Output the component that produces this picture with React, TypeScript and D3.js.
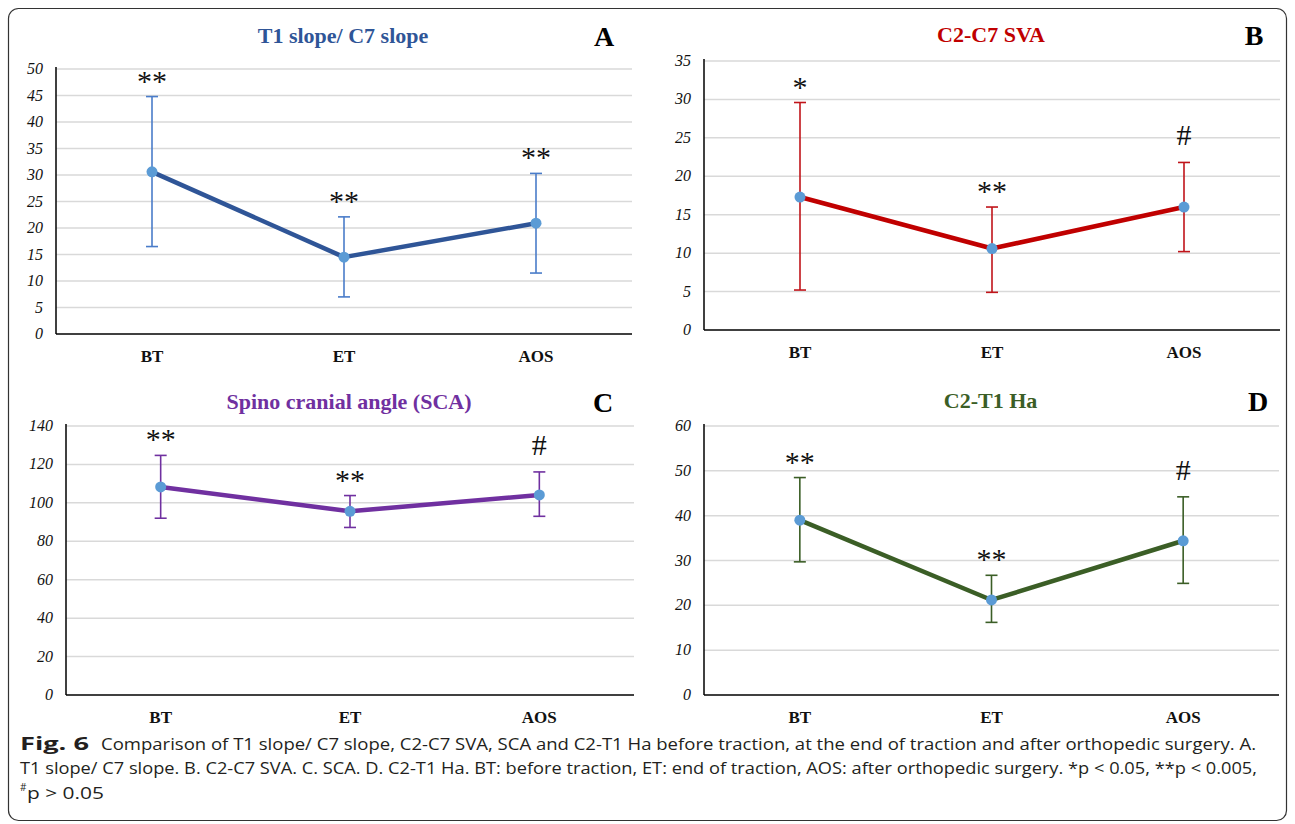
import React, { useRef, useEffect } from 'react';
import * as d3 from 'd3';

const categories = ['BT', 'ET', 'AOS'];

// panel A: T1 slope / C7 slope
const meansA = [30.6, 14.5, 20.9];
const upperA = [44.8, 22.1, 30.3];
const lowerA = [16.5, 7.0, 11.5];
const marksA = ['**', '**', '**'];
const ticksA = [0, 5, 10, 15, 20, 25, 30, 35, 40, 45, 50];

// panel B: C2-C7 SVA
const meansB = [17.3, 10.6, 16.0];
const upperB = [29.6, 16.0, 21.8];
const lowerB = [5.2, 4.9, 10.2];
const marksB = ['*', '**', '#'];
const ticksB = [0, 5, 10, 15, 20, 25, 30, 35];

// panel C: spino cranial angle
const meansC = [108.3, 95.6, 104.1];
const upperC = [124.7, 103.8, 116.1];
const lowerC = [92.0, 87.2, 93.0];
const marksC = ['**', '**', '#'];
const ticksC = [0, 20, 40, 60, 80, 100, 120, 140];

// panel D: C2-T1 Ha
const meansD = [39.0, 21.2, 34.4];
const upperD = [48.5, 26.7, 44.2];
const lowerD = [29.7, 16.2, 24.9];
const marksD = ['**', '**', '#'];
const ticksD = [0, 10, 20, 30, 40, 50, 60];

const panels = [
  { title: 'T1 slope/ C7 slope', letter: 'A', means: meansA, upper: upperA, lower: lowerA, marks: marksA, ticks: ticksA,
    line: '#2F5597', bar: '#4A7CC9', left: 56, right: 632, top: 69, bottom: 334, titleY: 43, letterX: 604, labelY: 362 },
  { title: 'C2-C7 SVA', letter: 'B', means: meansB, upper: upperB, lower: lowerB, marks: marksB, ticks: ticksB,
    line: '#C00000', bar: '#C0141A', left: 704, right: 1280, top: 61, bottom: 330, titleY: 42, letterX: 1254, labelY: 358 },
  { title: 'Spino cranial angle (SCA)', letter: 'C', means: meansC, upper: upperC, lower: lowerC, marks: marksC, ticks: ticksC,
    line: '#7030A0', bar: '#7030A0', left: 66, right: 634, top: 426, bottom: 695, titleY: 409, letterX: 603, labelY: 723 },
  { title: 'C2-T1 Ha', letter: 'D', means: meansD, upper: upperD, lower: lowerD, marks: marksD, ticks: ticksD,
    line: '#3B5E26', bar: '#3B5E26', left: 704, right: 1279, top: 426, bottom: 695, titleY: 408, letterX: 1258, labelY: 723 },
];

const serif = 'Liberation Serif';

const App = () => {
  const svgRef = useRef<SVGSVGElement>(null);

  useEffect(() => {
    const svg = d3.select(svgRef.current);
    svg.selectAll('*').remove();

    svg.append('rect')
      .attr('x', 8.5).attr('y', 8.5).attr('width', 1278).attr('height', 812)
      .attr('rx', 10).attr('fill', 'white').attr('stroke', '#333').attr('stroke-width', 1.2);

    panels.forEach(p => {
      const g = svg.append('g');
      const x = d3.scalePoint<string>().domain(categories).range([p.left, p.right]).padding(0.5);
      const y = d3.scaleLinear().domain([0, d3.max(p.ticks) as number]).range([p.bottom, p.top]);

      // gridlines
      g.selectAll('line.grid')
        .data(p.ticks.filter(t => t > 0))
        .enter().append('line')
        .attr('x1', p.left).attr('x2', p.right)
        .attr('y1', d => y(d)).attr('y2', d => y(d))
        .attr('stroke', '#d9d9d9').attr('stroke-width', 1.5);

      // y tick labels
      g.selectAll('text.yt')
        .data(p.ticks)
        .enter().append('text')
        .attr('x', p.left - 13).attr('y', d => y(d) + 5)
        .attr('text-anchor', 'end')
        .attr('font-family', serif).attr('font-style', 'italic').attr('font-size', 16).attr('fill', '#111')
        .text(d => d);

      // axes
      g.append('line')
        .attr('x1', p.left).attr('x2', p.left)
        .attr('y1', p.top - 2).attr('y2', p.bottom)
        .attr('stroke', '#000').attr('stroke-width', 1.5);
      g.append('line')
        .attr('x1', p.left).attr('x2', p.right)
        .attr('y1', p.bottom).attr('y2', p.bottom)
        .attr('stroke', '#000').attr('stroke-width', 1.5);
      g.selectAll('text.xl')
        .data(categories)
        .enter().append('text')
        .attr('x', d => x(d) as number).attr('y', p.labelY)
        .attr('text-anchor', 'middle')
        .attr('font-family', serif).attr('font-weight', 'bold').attr('font-size', 17).attr('fill', '#111')
        .text(d => d);

      // error bars
      const idx = categories.map((_, i) => i);
      const eb = g.selectAll('g.eb').data(idx).enter().append('g')
        .attr('stroke', p.bar).attr('stroke-width', 1.6);
      eb.append('line')
        .attr('x1', i => x(categories[i]) as number).attr('x2', i => x(categories[i]) as number)
        .attr('y1', i => y(p.upper[i])).attr('y2', i => y(p.lower[i]));
      eb.append('line')
        .attr('x1', i => (x(categories[i]) as number) - 6).attr('x2', i => (x(categories[i]) as number) + 6)
        .attr('y1', i => y(p.upper[i])).attr('y2', i => y(p.upper[i]));
      eb.append('line')
        .attr('x1', i => (x(categories[i]) as number) - 6).attr('x2', i => (x(categories[i]) as number) + 6)
        .attr('y1', i => y(p.lower[i])).attr('y2', i => y(p.lower[i]));

      // mean line
      const lineGen = d3.line<number>()
        .x(i => x(categories[i]) as number)
        .y(i => y(p.means[i]));
      g.append('path')
        .datum(idx)
        .attr('d', lineGen)
        .attr('fill', 'none').attr('stroke', p.line).attr('stroke-width', 4.5)
        .attr('stroke-linejoin', 'round');

      g.selectAll('circle')
        .data(idx)
        .enter().append('circle')
        .attr('cx', i => x(categories[i]) as number).attr('cy', i => y(p.means[i]))
        .attr('r', 5.5).attr('fill', '#5B9BD5');

      // significance marks
      g.selectAll('text.mk')
        .data(idx)
        .enter().append('text')
        .attr('x', i => x(categories[i]) as number)
        .attr('y', i => y(p.upper[i]) - (p.marks[i] === '#' ? 17 : 6))
        .attr('text-anchor', 'middle')
        .attr('font-family', serif).attr('font-size', 30).attr('fill', '#111')
        .text(i => p.marks[i]);

      // title and panel letter
      g.append('text')
        .attr('x', (p.left + p.right) / 2 - 1).attr('y', p.titleY)
        .attr('text-anchor', 'middle')
        .attr('font-family', serif).attr('font-weight', 'bold').attr('font-size', 22).attr('fill', p.line)
        .text(p.title);
      g.append('text')
        .attr('x', p.letterX).attr('y', p.titleY + 3)
        .attr('text-anchor', 'middle')
        .attr('font-family', serif).attr('font-weight', 'bold').attr('font-size', 28).attr('fill', '#000')
        .text(p.letter);
    });

    // caption
    const cap = svg.append('g').attr('font-family', 'Open Sans').attr('fill', '#231f20');
    cap.append('text').attr('x', 20).attr('y', 750).attr('font-size', 18).attr('font-weight', 'bold')
      .attr('textLength', 69).attr('lengthAdjust', 'spacingAndGlyphs').text('Fig. 6');
    cap.append('text').attr('x', 101).attr('y', 750).attr('font-size', 17)
      .attr('textLength', 1155).attr('lengthAdjust', 'spacingAndGlyphs')
      .text('Comparison of T1 slope/ C7 slope, C2-C7 SVA, SCA and C2-T1 Ha before traction, at the end of traction and after orthopedic surgery. A.');
    cap.append('text').attr('x', 20).attr('y', 774).attr('font-size', 17)
      .attr('textLength', 1237).attr('lengthAdjust', 'spacingAndGlyphs')
      .text('T1 slope/ C7 slope. B. C2-C7 SVA. C. SCA. D. C2-T1 Ha. BT: before traction, ET: end of traction, AOS: after orthopedic surgery. *p < 0.05, **p < 0.005,');
    cap.append('text').attr('x', 20).attr('y', 791).attr('font-size', 10).text('#');
    cap.append('text').attr('x', 27).attr('y', 799).attr('font-size', 17)
      .attr('textLength', 77).attr('lengthAdjust', 'spacingAndGlyphs')
      .text('p > 0.05');
  }, []);

  return (
    <svg ref={svgRef} width={1295} height={824}
      style={{ position: 'absolute', left: 0, top: 0, background: 'white' }} />
  );
};

export default App;
